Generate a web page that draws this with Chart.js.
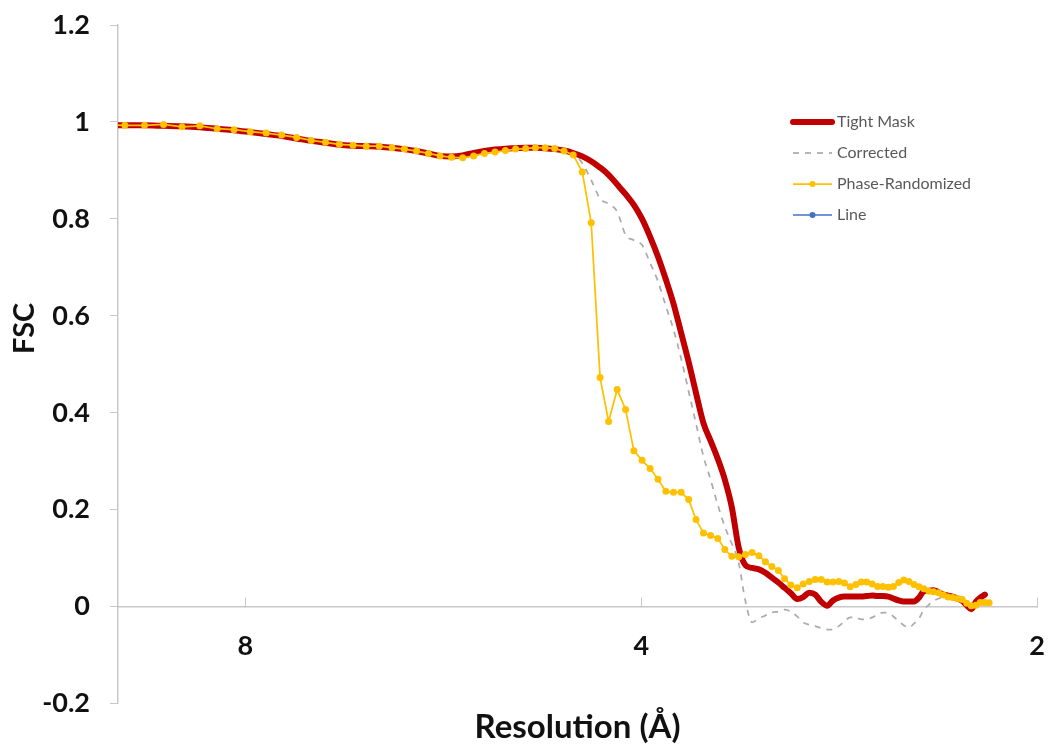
<!DOCTYPE html>
<html><head><meta charset="utf-8">
<script src="https://cdn.jsdelivr.net/npm/chart.js@4.4.1/dist/chart.umd.min.js"></script>
<style>html,body{margin:0;padding:0;background:#fff}#wrap{position:relative;width:1048px;height:746px}</style>
</head><body><div id="wrap"><canvas id="c" width="1048" height="746"></canvas></div>
<script>
// Resolution (Å) of each FSC shell
const resolution = [
 10.240, 9.881, 9.546, 9.233, 8.940, 8.665, 8.406, 8.162, 7.932, 7.715,
 7.509, 7.314, 7.129, 6.953, 6.786, 6.626, 6.474, 6.328, 6.189, 6.056,
 5.928, 5.806, 5.689, 5.576, 5.468, 5.364, 5.264, 5.167, 5.074, 4.984,
 4.897, 4.814, 4.733, 4.655, 4.579, 4.506, 4.435, 4.366, 4.299, 4.235,
 4.172, 4.111, 4.052, 3.994, 3.938, 3.884, 3.831, 3.780, 3.730, 3.681,
 3.634, 3.587, 3.542, 3.498, 3.455, 3.413, 3.372, 3.333, 3.294, 3.255,
 3.218, 3.182, 3.146, 3.112, 3.078, 3.044, 3.012, 2.980, 2.949, 2.918,
 2.888, 2.859, 2.830, 2.802, 2.774, 2.747, 2.721, 2.695, 2.669, 2.644,
 2.620, 2.595, 2.572, 2.548, 2.526, 2.503, 2.481, 2.459, 2.438, 2.417,
 2.397, 2.376, 2.356, 2.337, 2.318, 2.299, 2.280, 2.262, 2.244, 2.226,
 2.209, 2.191, 2.175
];
const tightMask = [
 .994,.993,.993,.992,.991,.989,.986,.983,.979,.975,
 .971,.966,.961,.957,.953,.951,.950,.949,.947,.944,
 .940,.935,.930,.929,.931,.936,.940,.943,.945,.946,
 .947,.947,.946,.944,.941,.936,.929,.919,.906,.891,
 .871,.851,.829,.800,.763,.722,.675,.625,.565,.505,
 .441,.379,.342,.305,.262,.205,.122,.086,.080,.077,
 .070,.060,.050,.039,.028,.016,.020,.029,.025,.010,
 .002,.013,.019,.021,.021,.021,.021,.022,.023,.022,
 .022,.021,.017,.013,.011,.011,.011,.019,.032,.033,
 .034,.030,.025,.023,.021,.017,.012,.003,-.005,.010,
 .019,.025,null
];
const corrected = [
 .994,.993,.993,.992,.991,.989,.986,.983,.979,.975,
 .971,.966,.961,.957,.953,.951,.950,.949,.947,.944,
 .940,.935,.930,.929,.931,.936,.940,.943,.945,.946,
 .947,.947,.946,.944,.941,.934,.915,.880,.842,.831,
 .815,.767,.756,.746,.709,.671,.620,.572,.512,.444,
 .378,.310,.262,.210,.165,.130,.090,.012,-.032,-.024,
 -.018,-.012,-.010,-.006,-.010,-.020,-.032,-.037,-.040,-.044,
 -.047,-.047,-.040,-.030,-.022,-.022,-.026,-.026,-.022,-.016,
 -.012,-.013,-.020,-.030,-.038,-.043,-.035,-.024,-.006,.004,
 .012,.017,.019,.017,.015,.013,.011,.007,.003,.002,
 .004,.005,.005
];
const phaseRandomized = [
 .994,.993,.993,.995,.990,.992,.986,.984,.980,.977,
 .973,.968,.962,.958,.954,.952,.950,.950,.947,.944,
 .940,.935,.930,.927,.926,.930,.935,.938,.941,.944,
 .945,.947,.947,.945,.940,.932,.897,.792,.473,.382,
 .448,.407,.322,.302,.285,.263,.238,.236,.236,.221,
 .180,.152,.147,.141,.118,.104,.103,.108,.112,.105,
 .093,.083,.075,.058,.045,.039,.047,.052,.056,.056,
 .051,.051,.052,.049,.041,.046,.051,.051,.047,.042,
 .042,.040,.042,.050,.055,.052,.046,.041,.037,.032,
 .031,.029,.024,.020,.019,.017,.015,.007,.002,.003,
 .009,.009,.008
];
const lineSeries = [];
const seriesNames = ['Tight Mask', 'Corrected', 'Phase-Randomized', 'Line'];
const xTicks = [8, 4, 2];
const yTicks = [-0.2, 0, 0.2, 0.4, 0.6, 0.8, 1, 1.2];
const xTitle = 'Resolution (Å)';
const yTitle = 'FSC';

const pts = vals => vals.map((v, i) => ({x: resolution[i], y: v}));
const FONT = 'Lato, "Open Sans", sans-serif';
const AXIS = '#C8C8C8';

const legendPlugin = {
  id: 'sideLegend',
  afterDraw(chart, args, o) {
    const ctx = chart.ctx;
    chart.data.datasets.forEach((ds, i) => {
      const y = o.y + i * o.gap;
      ctx.save();
      ctx.strokeStyle = ds.borderColor;
      ctx.lineWidth = ds.borderWidth;
      ctx.lineCap = ds.borderCapStyle || 'butt';
      ctx.setLineDash(ds.borderDash || []);
      ctx.beginPath(); ctx.moveTo(o.x, y); ctx.lineTo(o.x + o.len, y); ctx.stroke();
      ctx.setLineDash([]);
      if (ds.pointRadius > 0) {
        ctx.fillStyle = ds.pointBackgroundColor;
        ctx.beginPath(); ctx.arc(o.x + o.len / 2, y, ds.pointRadius * 0.85, 0, Math.PI * 2); ctx.fill();
      }
      ctx.fillStyle = o.color; ctx.font = o.font;
      ctx.textAlign = 'left'; ctx.textBaseline = 'middle';
      ctx.fillText(ds.label, o.x + o.len + o.textGap, y);
      ctx.restore();
    });
  }
};
const yTitlePlugin = {
  id: 'yTitle',
  afterDraw(chart, args, o) {
    const {ctx, chartArea} = chart;
    ctx.save();
    ctx.translate(o.x, (chartArea.top + chartArea.bottom) / 2 + o.dy);
    ctx.rotate(-Math.PI / 2);
    ctx.font = o.font; ctx.fillStyle = o.color;
    ctx.textAlign = 'center'; ctx.textBaseline = 'middle';
    ctx.fillText(o.text, 0, 0);
    ctx.restore();
  }
};

const clipArea = {left: 0, top: 10, right: 10, bottom: 10};
new Chart(document.getElementById('c'), {
  type: 'line',
  data: {
    datasets: [
      {label: seriesNames[0], data: pts(tightMask), xAxisID: 'x', yAxisID: 'y',
       borderColor: '#C00000', borderWidth: 6, borderCapStyle: 'round', borderJoinStyle: 'round',
       pointRadius: 0, cubicInterpolationMode: 'monotone', order: 2, clip: clipArea},
      {label: seriesNames[1], data: pts(corrected), xAxisID: 'x', yAxisID: 'y',
       borderColor: '#ABABAB', borderWidth: 1.75, borderDash: [6, 6],
       pointRadius: 0, cubicInterpolationMode: 'monotone', order: 3, clip: clipArea},
      {label: seriesNames[2], data: pts(phaseRandomized), xAxisID: 'x', yAxisID: 'y',
       borderColor: '#FFC000', borderWidth: 1.75, pointRadius: 3.5, pointBorderWidth: 0,
       pointBackgroundColor: '#FFC000', pointBorderColor: '#FFC000', order: 1, clip: clipArea},
      {label: seriesNames[3], data: pts(lineSeries), xAxisID: 'x', yAxisID: 'y',
       borderColor: '#4472C4', borderWidth: 1.5, pointRadius: 3.5, pointBorderWidth: 0,
       pointBackgroundColor: '#4472C4', order: 0}
    ]
  },
  options: {
    responsive: false, animation: false, events: [],
    layout: {padding: {top: 25, right: 11, bottom: 0, left: 0}},
    plugins: {
      legend: {display: false}, tooltip: {enabled: false},
      sideLegend: {x: 793, y: 122, gap: 31, len: 39, textGap: 5, color: '#595959', font: '16px ' + FONT},
      yTitle: {text: yTitle, x: 25, dy: -36, color: '#111', font: 'bold 29px ' + FONT}
    },
    scales: {
      x: {
        type: 'logarithmic', position: {y: 0}, min: 2, max: 10, reverse: true,
        afterBuildTicks: s => { s.ticks = xTicks.map(v => ({value: v})); },
        afterFit: s => { s.height = 0; s.paddingLeft = 0; s.paddingRight = 0; },
        grid: {drawOnChartArea: false, drawTicks: true, tickLength: -10, color: AXIS, lineWidth: 1},
        border: {display: true, color: AXIS, width: 1.5},
        ticks: {padding: 33.5, maxRotation: 0, autoSkip: false, color: '#111',
                font: {family: FONT, size: 27, weight: 'bold'}, callback: v => String(v)}
      },
      xt: {
        type: 'linear', position: 'bottom', axis: 'x',
        afterFit: s => { s.paddingLeft = 0; s.paddingRight = 0; },
        grid: {display: false, drawTicks: false}, border: {display: false},
        ticks: {display: false},
        title: {display: true, text: xTitle, color: '#111', padding: {top: 6, bottom: 0},
                font: {family: FONT, size: 33, weight: 'bold', lineHeight: 1.1}}
      },
      y: {
        type: 'linear', position: 'left', min: -0.2, max: 1.2,
        afterBuildTicks: s => { s.ticks = yTicks.map(v => ({value: v})); },
        afterFit: s => { s.width = 118; s.paddingTop = 0; s.paddingBottom = 0; },
        grid: {drawOnChartArea: false, drawTicks: true, tickLength: 8, color: AXIS},
        border: {display: true, color: AXIS, width: 1.5},
        ticks: {padding: 20, color: '#111', font: {family: FONT, size: 27, weight: 'bold'},
                callback: v => String(Math.round(v * 10) / 10)}
      }
    }
  },
  plugins: [legendPlugin, yTitlePlugin]
});
</script></body></html>
